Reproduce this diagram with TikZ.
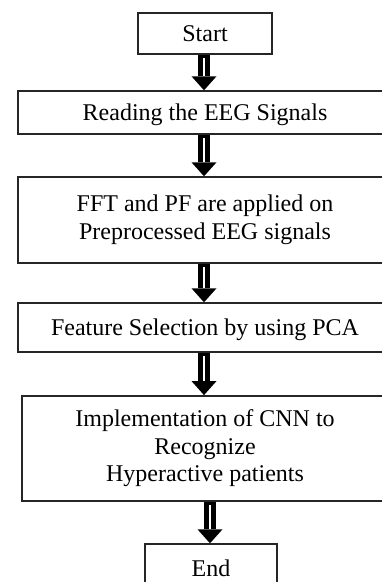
\documentclass[tikz,border=0pt]{standalone}
\usepackage{fontspec}
\setmainfont{Liberation Serif}
\usetikzlibrary{calc}
\newcommand\blkarrow[3]{%
  \coordinate (ta) at (#3,0 |- #1.south);
  \coordinate (tb) at (#3,0 |- #2.north);
  \fill[black] ($(ta)+(-6,0)$) rectangle ($(tb)+(6,-14)$);
  \fill[white] ($(ta)+(-1,3)$) rectangle ($(tb)+(1,-13)$);
  \fill[black] ($(tb)+(-12.5,-14)$) -- ($(tb)+(12.5,-14)$) -- (tb) -- cycle;
}
\begin{document}
\begin{tikzpicture}[x=1pt,y=-1pt,
  box/.style={draw=black!85, line width=1.4pt, inner sep=0pt,
    font=\fontsize{24}{27.5}\selectfont, align=center},
  one/.style={text height=16pt, text depth=0pt}]
\useasboundingbox (0,0) rectangle (382,582);
\clip (0,0) rectangle (382,582);
\node[box,one,minimum width=134pt,minimum height=41pt] (start) at (205,33.5) {Start};
\node[box,one,minimum width=374pt,minimum height=43pt] (read) at (205,112.5) {Reading the EEG Signals};
\node[box,minimum width=374pt,minimum height=86pt] (fft) at (205,220) {FFT and PF are applied on\\Preprocessed EEG signals};
\node[box,one,minimum width=374pt,minimum height=49pt] (feat) at (205,327.5) {Feature Selection by using PCA};
\node[box,line width=1.8pt,minimum width=366pt,minimum height=105pt] (cnn) at (205,448.5) {Implementation of CNN to\\Recognize\\Hyperactive patients};
\node[box,one,minimum width=132pt,minimum height=49pt] (end) at (211,568.5) {End};
\blkarrow{start}{read}{204}
\blkarrow{read}{fft}{204}
\blkarrow{fft}{feat}{204}
\blkarrow{feat}{cnn}{204}
\blkarrow{cnn}{end}{210}
\end{tikzpicture}
\end{document}
